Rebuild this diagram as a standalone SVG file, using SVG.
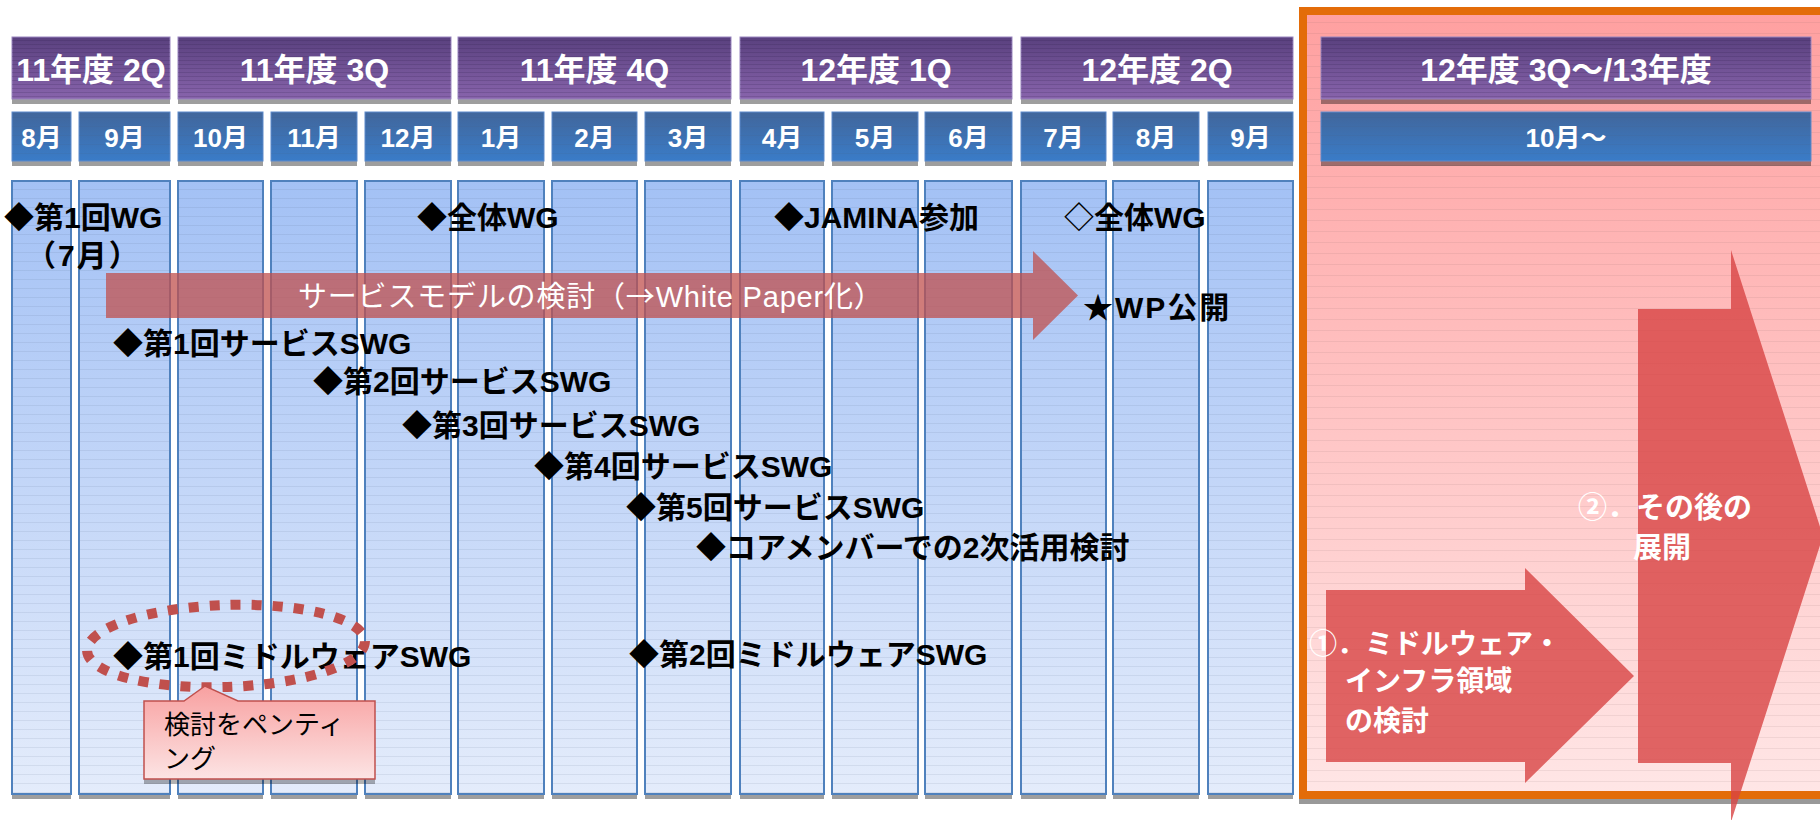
<svg xmlns="http://www.w3.org/2000/svg" width="1820" height="820" viewBox="0 0 1820 820">
<defs>
  <linearGradient id="gHead" x1="0" y1="0" x2="0" y2="1">
    <stop offset="0" stop-color="#59407E"/>
    <stop offset="1" stop-color="#8864AC"/>
  </linearGradient>
  <linearGradient id="gMonth" x1="0" y1="0" x2="0" y2="1">
    <stop offset="0" stop-color="#41669B"/>
    <stop offset="1" stop-color="#3A7CC8"/>
  </linearGradient>
  <linearGradient id="gCol" x1="0" y1="0" x2="0" y2="1">
    <stop offset="0" stop-color="#A3C1F5"/>
    <stop offset="1" stop-color="#E4ECFB"/>
  </linearGradient>
  <linearGradient id="gPanel" x1="0" y1="0" x2="0" y2="1">
    <stop offset="0" stop-color="#FFA0A0"/>
    <stop offset="1" stop-color="#FFE6E6"/>
  </linearGradient>
  <linearGradient id="gCallout" x1="0" y1="0" x2="0" y2="1">
    <stop offset="0" stop-color="#F8A0A0"/>
    <stop offset="1" stop-color="#FCE4E4"/>
  </linearGradient>
  <pattern id="pLines" width="10" height="9" patternUnits="userSpaceOnUse">
    <rect width="10" height="1" fill="#4A5A7A" opacity="0.10"/>
  </pattern>
  <pattern id="pPink" width="10" height="11" patternUnits="userSpaceOnUse">
    <rect width="10" height="1" fill="#7A5A5A" opacity="0.10"/>
  </pattern>
  <pattern id="pHead" width="10" height="4" patternUnits="userSpaceOnUse">
    <rect width="10" height="1" fill="#2A1A4A" opacity="0.18"/>
  </pattern>
</defs>
<style>
  .hd { fill: url(#gHead); stroke: #9A86BF; stroke-width: 1; }
  .mo { fill: url(#gMonth); stroke: #5D8ACB; stroke-width: 1; }
  .col { fill: url(#gCol); stroke: #4F81BD; stroke-width: 2; }
  .sh { fill: #000; opacity: 0.38; }
  .hl { fill: url(#pHead); }
  .cl { fill: url(#pLines); }
  .ht { font-family: "Liberation Sans", "Noto Sans CJK JP", sans-serif; font-size: 32px; font-weight: bold; fill: #fff; text-anchor: middle; }
  .mt { font-family: "Liberation Sans", "Noto Sans CJK JP", sans-serif; font-size: 26px; font-weight: bold; fill: #fff; text-anchor: middle; }
  .ev { font-family: "Liberation Sans", "Noto Sans CJK JP", sans-serif; font-size: 30px; font-weight: bold; fill: #000; }
  .wb { font-family: "Liberation Sans", "Noto Sans CJK JP", sans-serif; font-weight: bold; fill: #fff; }
  .blk { fill: #D84444; opacity: 0.8; }
</style>

<rect width="1820" height="820" fill="#fff"/>

<!-- future panel -->
<g id="panel-future">
  <rect x="1299" y="799" width="530" height="5" fill="#999"/>
  <rect x="1303" y="11" width="530" height="784" fill="url(#gPanel)" stroke="#E36C09" stroke-width="8"/>
  <rect x="1307" y="15" width="520" height="776" fill="url(#pPink)"/>
</g>

<!-- quarter headers -->
<g id="q-11-2q">
  <rect class="sh" x="12" y="42" width="158" height="62"/>
  <rect class="hd" x="12" y="37" width="158" height="62"/>
  <rect class="hl" x="12" y="37" width="158" height="62"/>
  <text class="ht" x="91" y="81">11年度 2Q</text>
</g>
<g id="q-11-3q">
  <rect class="sh" x="178" y="42" width="273" height="62"/>
  <rect class="hd" x="178" y="37" width="273" height="62"/>
  <rect class="hl" x="178" y="37" width="273" height="62"/>
  <text class="ht" x="314.5" y="81">11年度 3Q</text>
</g>
<g id="q-11-4q">
  <rect class="sh" x="458" y="42" width="273" height="62"/>
  <rect class="hd" x="458" y="37" width="273" height="62"/>
  <rect class="hl" x="458" y="37" width="273" height="62"/>
  <text class="ht" x="594.5" y="81">11年度 4Q</text>
</g>
<g id="q-12-1q">
  <rect class="sh" x="740" y="42" width="272" height="62"/>
  <rect class="hd" x="740" y="37" width="272" height="62"/>
  <rect class="hl" x="740" y="37" width="272" height="62"/>
  <text class="ht" x="876" y="81">12年度 1Q</text>
</g>
<g id="q-12-2q">
  <rect class="sh" x="1021" y="42" width="272" height="62"/>
  <rect class="hd" x="1021" y="37" width="272" height="62"/>
  <rect class="hl" x="1021" y="37" width="272" height="62"/>
  <text class="ht" x="1157" y="81">12年度 2Q</text>
</g>
<g id="q-12-3q-13">
  <rect class="sh" x="1321" y="42" width="490" height="62"/>
  <rect class="hd" x="1321" y="37" width="490" height="62"/>
  <rect class="hl" x="1321" y="37" width="490" height="62"/>
  <text class="ht" x="1566" y="81">12年度 3Q～/13年度</text>
</g>

<!-- month headers -->
<g id="m-08"><rect class="sh" x="12" y="117" width="59" height="49"/><rect class="mo" x="12" y="112" width="59" height="49"/><rect class="cl" x="12" y="112" width="59" height="49"/><text class="mt" x="41.5" y="147">8月</text></g>
<g id="m-09"><rect class="sh" x="79" y="117" width="91" height="49"/><rect class="mo" x="79" y="112" width="91" height="49"/><rect class="cl" x="79" y="112" width="91" height="49"/><text class="mt" x="124.5" y="147">9月</text></g>
<g id="m-10"><rect class="sh" x="178" y="117" width="85" height="49"/><rect class="mo" x="178" y="112" width="85" height="49"/><rect class="cl" x="178" y="112" width="85" height="49"/><text class="mt" x="220.5" y="147">10月</text></g>
<g id="m-11"><rect class="sh" x="271" y="117" width="86" height="49"/><rect class="mo" x="271" y="112" width="86" height="49"/><rect class="cl" x="271" y="112" width="86" height="49"/><text class="mt" x="314" y="147">11月</text></g>
<g id="m-12"><rect class="sh" x="365" y="117" width="86" height="49"/><rect class="mo" x="365" y="112" width="86" height="49"/><rect class="cl" x="365" y="112" width="86" height="49"/><text class="mt" x="408" y="147">12月</text></g>
<g id="m-01"><rect class="sh" x="458" y="117" width="86" height="49"/><rect class="mo" x="458" y="112" width="86" height="49"/><rect class="cl" x="458" y="112" width="86" height="49"/><text class="mt" x="501" y="147">1月</text></g>
<g id="m-02"><rect class="sh" x="552" y="117" width="85" height="49"/><rect class="mo" x="552" y="112" width="85" height="49"/><rect class="cl" x="552" y="112" width="85" height="49"/><text class="mt" x="594.5" y="147">2月</text></g>
<g id="m-03"><rect class="sh" x="645" y="117" width="86" height="49"/><rect class="mo" x="645" y="112" width="86" height="49"/><rect class="cl" x="645" y="112" width="86" height="49"/><text class="mt" x="688" y="147">3月</text></g>
<g id="m-04"><rect class="sh" x="740" y="117" width="84" height="49"/><rect class="mo" x="740" y="112" width="84" height="49"/><rect class="cl" x="740" y="112" width="84" height="49"/><text class="mt" x="782" y="147">4月</text></g>
<g id="m-05"><rect class="sh" x="832" y="117" width="86" height="49"/><rect class="mo" x="832" y="112" width="86" height="49"/><rect class="cl" x="832" y="112" width="86" height="49"/><text class="mt" x="875" y="147">5月</text></g>
<g id="m-06"><rect class="sh" x="925" y="117" width="87" height="49"/><rect class="mo" x="925" y="112" width="87" height="49"/><rect class="cl" x="925" y="112" width="87" height="49"/><text class="mt" x="968.5" y="147">6月</text></g>
<g id="m-07"><rect class="sh" x="1021" y="117" width="85" height="49"/><rect class="mo" x="1021" y="112" width="85" height="49"/><rect class="cl" x="1021" y="112" width="85" height="49"/><text class="mt" x="1063.5" y="147">7月</text></g>
<g id="m-08b"><rect class="sh" x="1113" y="117" width="86" height="49"/><rect class="mo" x="1113" y="112" width="86" height="49"/><rect class="cl" x="1113" y="112" width="86" height="49"/><text class="mt" x="1156" y="147">8月</text></g>
<g id="m-09b"><rect class="sh" x="1208" y="117" width="85" height="49"/><rect class="mo" x="1208" y="112" width="85" height="49"/><rect class="cl" x="1208" y="112" width="85" height="49"/><text class="mt" x="1250.5" y="147">9月</text></g>
<g id="m-10-on"><rect class="sh" x="1321" y="117" width="490" height="49"/><rect class="mo" x="1321" y="112" width="490" height="49"/><rect class="cl" x="1321" y="112" width="490" height="49"/><text class="mt" x="1566" y="147">10月～</text></g>

<!-- month columns -->
<g id="columns">
  <g id="c-08"><rect class="sh" x="12" y="186" width="59" height="613"/><rect class="col" x="12" y="181" width="59" height="613"/><rect class="cl" x="13" y="182" width="57" height="611"/></g>
  <g id="c-09"><rect class="sh" x="79" y="186" width="91" height="613"/><rect class="col" x="79" y="181" width="91" height="613"/><rect class="cl" x="80" y="182" width="89" height="611"/></g>
  <g id="c-10"><rect class="sh" x="178" y="186" width="85" height="613"/><rect class="col" x="178" y="181" width="85" height="613"/><rect class="cl" x="179" y="182" width="83" height="611"/></g>
  <g id="c-11"><rect class="sh" x="271" y="186" width="86" height="613"/><rect class="col" x="271" y="181" width="86" height="613"/><rect class="cl" x="272" y="182" width="84" height="611"/></g>
  <g id="c-12"><rect class="sh" x="365" y="186" width="86" height="613"/><rect class="col" x="365" y="181" width="86" height="613"/><rect class="cl" x="366" y="182" width="84" height="611"/></g>
  <g id="c-01"><rect class="sh" x="458" y="186" width="86" height="613"/><rect class="col" x="458" y="181" width="86" height="613"/><rect class="cl" x="459" y="182" width="84" height="611"/></g>
  <g id="c-02"><rect class="sh" x="552" y="186" width="85" height="613"/><rect class="col" x="552" y="181" width="85" height="613"/><rect class="cl" x="553" y="182" width="83" height="611"/></g>
  <g id="c-03"><rect class="sh" x="645" y="186" width="86" height="613"/><rect class="col" x="645" y="181" width="86" height="613"/><rect class="cl" x="646" y="182" width="84" height="611"/></g>
  <g id="c-04"><rect class="sh" x="740" y="186" width="84" height="613"/><rect class="col" x="740" y="181" width="84" height="613"/><rect class="cl" x="741" y="182" width="82" height="611"/></g>
  <g id="c-05"><rect class="sh" x="832" y="186" width="86" height="613"/><rect class="col" x="832" y="181" width="86" height="613"/><rect class="cl" x="833" y="182" width="84" height="611"/></g>
  <g id="c-06"><rect class="sh" x="925" y="186" width="87" height="613"/><rect class="col" x="925" y="181" width="87" height="613"/><rect class="cl" x="926" y="182" width="85" height="611"/></g>
  <g id="c-07"><rect class="sh" x="1021" y="186" width="85" height="613"/><rect class="col" x="1021" y="181" width="85" height="613"/><rect class="cl" x="1022" y="182" width="83" height="611"/></g>
  <g id="c-08b"><rect class="sh" x="1113" y="186" width="86" height="613"/><rect class="col" x="1113" y="181" width="86" height="613"/><rect class="cl" x="1114" y="182" width="84" height="611"/></g>
  <g id="c-09b"><rect class="sh" x="1208" y="186" width="85" height="613"/><rect class="col" x="1208" y="181" width="85" height="613"/><rect class="cl" x="1209" y="182" width="83" height="611"/></g>
</g>

<!-- block arrows -->
<g id="connectors">
  <g id="arrow-service-model">
    <polygon points="106,273 1033,273 1033,251 1078,295.5 1033,340 1033,318 106,318" fill="#C0504D" opacity="0.75"/>
    <text x="298" y="307" font-family="Liberation Sans, Noto Sans CJK JP, sans-serif" font-size="29" letter-spacing="0.8" fill="#fff">サービスモデルの検討（<tspan font-family="Noto Sans CJK JP, sans-serif">→</tspan>White Paper化）</text>
  </g>
  <g id="arrow-middleware">
    <polygon class="blk" points="1326,590 1525,590 1525,568 1634,676 1525,783 1525,762 1326,762"/>
  </g>
  <g id="arrow-future">
    <polygon class="blk" points="1638,309 1731,309 1731,250 1823,536 1731,822 1731,763 1638,763"/>
  </g>
</g>

<!-- events -->
<g id="ev-wg1"><text class="ev" x="4" y="228">◆第1回WG</text><text class="ev" x="26" y="266" letter-spacing="2">（7月）</text></g>
<g id="ev-zentai-wg"><text class="ev" x="417" y="228">◆全体WG</text></g>
<g id="ev-jamina"><text class="ev" x="774" y="228">◆JAMINA参加</text></g>
<g id="ev-zentai-wg2"><text class="ev" x="1064" y="228">◇全体WG</text></g>
<g id="ev-wp"><text class="ev" x="1083" y="318" font-size="38" letter-spacing="2">★WP公開</text></g>
<g id="ev-swg1"><text class="ev" x="113" y="354">◆第1回サービスSWG</text></g>
<g id="ev-swg2"><text class="ev" x="313" y="392">◆第2回サービスSWG</text></g>
<g id="ev-swg3"><text class="ev" x="402" y="436">◆第3回サービスSWG</text></g>
<g id="ev-swg4"><text class="ev" x="534" y="477">◆第4回サービスSWG</text></g>
<g id="ev-swg5"><text class="ev" x="626" y="518">◆第5回サービスSWG</text></g>
<g id="ev-core"><text class="ev" x="696" y="558">◆コアメンバーでの2次活用検討</text></g>
<g id="ev-mw2"><text class="ev" x="629" y="665">◆第2回ミドルウェアSWG</text></g>
<g id="ev-mw1"><text class="ev" x="113" y="667">◆第1回ミドルウェアSWG</text></g>

<!-- highlight ellipse -->
<g id="pending-mark">
  <ellipse cx="226" cy="646" rx="139" ry="41" transform="rotate(-2 226 646)" fill="none" stroke="#C0504D" stroke-width="10" stroke-dasharray="10 11"/>
</g>

<!-- callout -->
<g id="callout-pending">
  <path d="M144,706 L375,706 L375,784 L144,784 Z" fill="#000" opacity="0.3"/>
  <path d="M144,701 L184,701 L205,686 L238,701 L375,701 L375,779 L144,779 Z" fill="url(#gCallout)" stroke="#C0504D" stroke-width="1.5"/>
  <text x="164" y="734" font-family="Liberation Sans, Noto Sans CJK JP, sans-serif" font-size="26" fill="#000">検討をペンティ</text>
  <text x="164" y="768" font-family="Liberation Sans, Noto Sans CJK JP, sans-serif" font-size="26" fill="#000">ング</text>
</g>

<!-- arrow labels -->
<g id="label-middleware">
  <text class="wb" x="1309" y="654" font-size="28">①．ミドルウェア・</text>
  <text class="wb" x="1345" y="691" font-size="28">インフラ領域</text>
  <text class="wb" x="1345" y="731" font-size="28">の検討</text>
</g>
<g id="label-future">
  <text class="wb" x="1578" y="518" font-size="29">②．その後の</text>
  <text class="wb" x="1633" y="558" font-size="29">展開</text>
</g>
</svg>
